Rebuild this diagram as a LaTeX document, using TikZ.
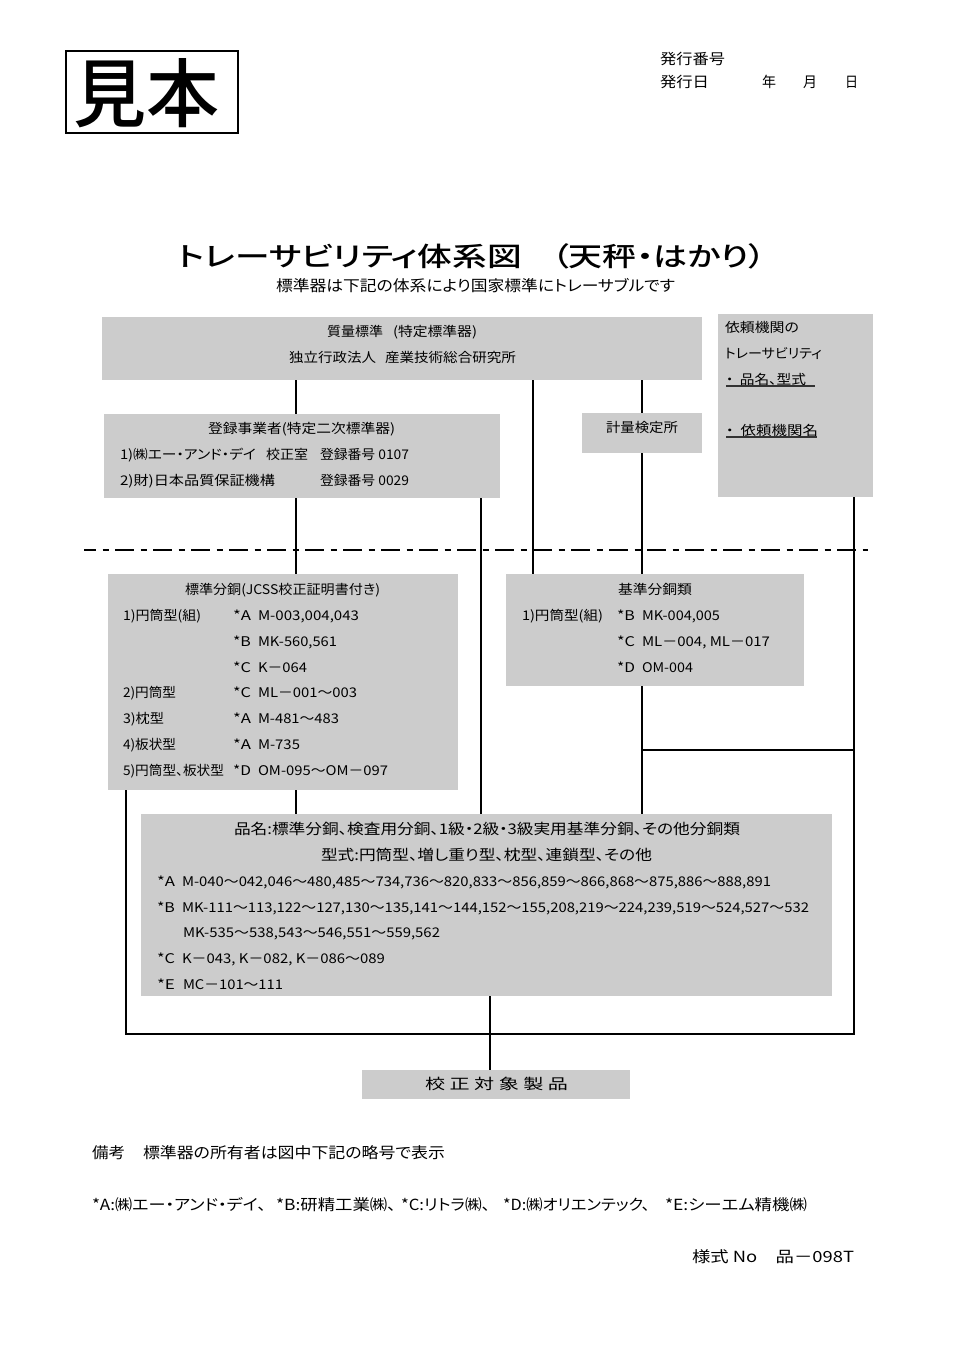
\documentclass[tikz,border=0pt]{standalone}
\usepackage{graphicx}
\usepackage{fontspec}
\setmainfont[RawFeature={+palt}]{Noto Sans CJK JP}
\newfontfamily\heavyfont[RawFeature={+palt}]{Noto Sans CJK JP Medium}
\definecolor{boxgrey}{HTML}{CCCCCC}
\tikzset{
  greybox/.style={fill=boxgrey,draw=none,inner sep=0pt,outer sep=0pt,anchor=north west},
  txt/.style={inner sep=0pt,outer sep=0pt,anchor=base west,text=black},
  conn/.style={line width=1.5pt,black},
  ul/.style={line width=1pt,black!80},
}
% \gb{name}{x1}{y1}{x2}{y2}: grey box, given in reference pixels
\newcommand\gb[5]{\node[greybox,minimum width=\dimexpr #4pt*3/4-#2pt*3/4\relax,minimum height=\dimexpr #5pt*3/4-#3pt*3/4\relax] (#1) at (#2,#3) {};}
% \lb{name}{x1}{x2}{yc}{size pt}{text}: text fitted to x1..x2, centred on yc
\newcommand\lb[6]{\node[txt,font=\fontsize{#5}{#5}\selectfont] (#1) at ({#2},{#4+0.52*#5}) {\resizebox{\dimexpr #3pt*3/4-#2pt*3/4\relax}{\height}{#6}};}
\begin{document}
\begin{tikzpicture}[x=0.75pt,y=-0.75pt]
\useasboundingbox (0,0) rectangle (960,1358);
\fill[white] (0,0) rectangle (960,1358);
% sample stamp
\node[draw=black,line width=1pt,inner sep=0pt,outer sep=0pt,anchor=north west,minimum width=129pt,minimum height=61.5pt] (stamp) at (66,51) {};
\lb{stamptext}{73}{219}{92}{56}{\heavyfont 見本}
% header
\lb{h1}{660}{725}{59}{11}{発行番号}
\lb{h2}{660}{709}{82}{11}{発行日}
\lb{h3}{762}{776}{82}{11}{年}
\lb{h4}{803}{817}{82}{11}{月}
\lb{h5}{845}{858}{82}{11}{日}
% title
\lb{title}{178}{522}{256}{20}{\heavyfont トレーサビリティ体系図}
\lb{titleb}{552}{766}{256}{20}{\heavyfont （天秤・はかり）}
\lb{sub}{276}{675}{286}{11.5}{標準器は下記の体系により国家標準にトレーサブルです}
% boxes
\gb{top}{102}{317}{702}{380}
\gb{reg}{104}{414}{500}{498}
\gb{kei}{582}{413}{702}{453}
\gb{irai}{718}{314}{873}{497}
\gb{std}{108}{574}{458}{790}
\gb{base}{506}{574}{804}{686}
\gb{prod}{141}{814}{832}{996}
\gb{target}{362}{1070}{630}{1099}
% column and row guides for the connectors
\coordinate (cA) at (126,0);
\coordinate (cB) at (295.5,0);
\coordinate (cC) at (481,0);
\coordinate (cD) at (490,0);
\coordinate (cE) at (533,0);
\coordinate (cF) at (642,0);
\coordinate (cG) at (854,0);
\coordinate (rJ) at (0,750);
\coordinate (rK) at (0,1034);
\coordinate (dL) at (84,550);
\coordinate (dR) at (868,550);
% connectors
\draw[conn] (cB |- top.south) -- (cB |- reg.north);
\draw[conn] (cE |- top.south) -- (cE |- base.north);
\draw[conn] (cF |- top.south) -- (cF |- kei.north);
\draw[conn] (cF |- kei.south) -- (cF |- base.north);
\draw[conn] (cB |- reg.south) -- (cB |- std.north);
\draw[conn] (cC |- reg.south) -- (cC |- prod.north);
\draw[conn] (cB |- std.south) -- (cB |- prod.north);
\draw[conn] (cF |- base.south) -- (cF |- prod.north);
\draw[conn] (cF |- rJ) -- (cG |- rJ);
\draw[conn] (cG |- irai.south) -- (cG |- rK) -- (cA |- rK) -- (cA |- std.south);
\draw[conn] (cD |- prod.south) -- (cD |- target.north);
\draw[line width=1.5pt,black,dash pattern=on 14pt off 5pt on 4.5pt off 5pt,dash phase=5pt] (dL) -- (dR);
% top box
\lb{t1}{327}{383}{331}{10}{質量標準}
\lb{t1b}{393}{477}{331}{10}{(特定標準器)}
\lb{t2}{289}{376}{357}{10}{独立行政法人}
\lb{t2b}{385}{516}{357}{10}{産業技術総合研究所}
% registered
\lb{r1}{208}{395}{428}{10}{登録事業者(特定二次標準器)}
\lb{r2}{120}{256}{454}{10}{1)㈱エー・アンド・デイ}
\lb{r2b}{266}{308}{454}{10}{校正室}
\lb{r2c}{320}{409}{454}{10}{登録番号 0107}
\lb{r3}{120}{275}{480}{10}{2)財)日本品質保証機構}
\lb{r4}{320}{409}{480}{10}{登録番号 0029}
\lb{k1}{606}{678}{427}{10}{計量検定所}
% client box
\lb{i1}{725}{799}{327}{10}{依頼機関の}
\lb{i2}{725}{822}{353}{10}{トレーサビリティ}
\lb{i3}{726}{806}{379}{10}{・\ \ 品名、型式}
\lb{i4}{726}{818}{430}{10}{・\ \ 依頼機関名}
\draw[ul] (i3.west |- 0,386) -- (815,386);
\draw[ul] (i4.west |- 0,437) -- (817,437);
% standard weights
\lb{s0}{185}{380}{589}{10}{標準分銅(JCSS校正証明書付き)}
\lb{s1}{123}{201}{615}{10}{1)円筒型(組)}
\lb{s1a}{233}{251}{615}{10}{*A}
\lb{s1b}{258}{359}{615}{10}{M-003,004,043}
\lb{s2a}{233}{251}{641}{10}{*B}
\lb{s2b}{258}{337}{641}{10}{MK-560,561}
\lb{s3a}{233}{251}{667}{10}{*C}
\lb{s3b}{258}{307}{667}{10}{K－064}
\lb{s4}{123}{176}{692}{10}{2)円筒型}
\lb{s4a}{233}{251}{692}{10}{*C}
\lb{s4b}{258}{357}{692}{10}{ML－001～003}
\lb{s5}{123}{164}{718}{10}{3)枕型}
\lb{s5a}{233}{251}{718}{10}{*A}
\lb{s5b}{258}{339}{718}{10}{M-481～483}
\lb{s6}{123}{176}{744}{10}{4)板状型}
\lb{s6a}{233}{251}{744}{10}{*A}
\lb{s6b}{258}{300}{744}{10}{M-735}
\lb{s7}{123}{224}{770}{10}{5)円筒型、板状型}
\lb{s7a}{233}{251}{770}{10}{*D}
\lb{s7b}{258}{388}{770}{10}{OM-095～OM－097}
% reference weights
\lb{b0}{618}{692}{589}{10}{基準分銅類}
\lb{b1}{522}{603}{615}{10}{1)円筒型(組)}
\lb{b1a}{617}{635}{615}{10}{*B}
\lb{b1b}{642}{720}{615}{10}{MK-004,005}
\lb{b2a}{617}{635}{641}{10}{*C}
\lb{b2b}{642}{770}{641}{10}{ML－004, ML－017}
\lb{b3a}{617}{635}{667}{10}{*D}
\lb{b3b}{642}{693}{667}{10}{OM-004}
% products
\lb{p1}{234}{740}{829}{11}{品名:標準分銅、検査用分銅、1級・2級・3級実用基準分銅、その他分銅類}
\lb{p2}{321}{652}{855}{11}{型式:円筒型、増し重り型、枕型、連鎖型、その他}
\lb{p3a}{157}{175}{881}{10}{*A}
\lb{p3b}{182}{771}{881}{10}{M-040～042,046～480,485～734,736～820,833～856,859～866,868～875,886～888,891}
\lb{p4a}{157}{175}{907}{10}{*B}
\lb{p4b}{182}{809}{907}{10}{MK-111～113,122～127,130～135,141～144,152～155,208,219～224,239,519～524,527～532}
\lb{p5b}{183}{440}{932}{10}{MK-535～538,543～546,551～559,562}
\lb{p6a}{157}{175}{958}{10}{*C}
\lb{p6b}{182}{385}{958}{10}{K－043, K－082, K－086～089}
\lb{p7a}{157}{175}{984}{10}{*E}
\lb{p7b}{183}{283}{984}{10}{MC－101～111}
% target
\lb{g1}{425}{568}{1084}{11}{校 正 対 象 製 品}
% notes
\lb{n1}{92}{125}{1153}{11.5}{備考}
\lb{n2}{143}{445}{1153}{11.5}{標準器の所有者は図中下記の略号で表示}
\lb{n3a}{92}{266}{1205}{11.5}{*A:㈱エー・アンド・デイ、}
\lb{n3b}{276}{396}{1205}{11.5}{*B:研精工業㈱、}
\lb{n3c}{401}{490}{1205}{11.5}{*C:リトラ㈱、}
\lb{n3d}{503}{650}{1205}{11.5}{*D:㈱オリエンテック、}
\lb{n3e}{665}{807}{1205}{11.5}{*E:シーエム精機㈱}
\lb{n4}{692}{854}{1257}{11.5}{様式 No　品－098T}
\end{tikzpicture}
\end{document}
